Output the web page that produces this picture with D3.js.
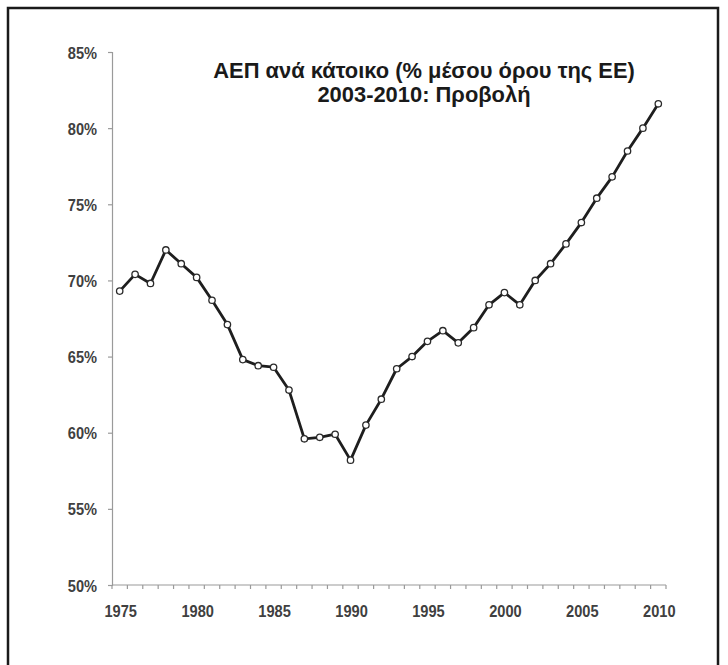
<!DOCTYPE html>
<html>
<head>
<meta charset="utf-8">
<script src="https://cdn.jsdelivr.net/npm/d3@7/dist/d3.min.js"></script>
<style>
  html, body { margin: 0; padding: 0; background: #fff; }
  svg { display: block; }
  text { font-family: "Liberation Sans", Arial, sans-serif; }
</style>
</head>
<body>
<svg id="chart" width="728" height="665"></svg>
<script>
const years = d3.range(1975, 2011);
const values = [
  69.3, 70.4, 69.8, 72.0, 71.1, 70.2, 68.7, 67.1, 64.8, 64.4,
  64.3, 62.8, 59.6, 59.7, 59.9, 58.2, 60.5, 62.2, 64.2, 65.0,
  66.0, 66.7, 65.9, 66.9, 68.4, 69.2, 68.4, 70.0, 71.1, 72.4,
  73.8, 75.4, 76.8, 78.5, 80.0, 81.6
];
const yTicks = [50, 55, 60, 65, 70, 75, 80, 85];
const xLabels = [1975, 1980, 1985, 1990, 1995, 2000, 2005, 2010];
const titleLines = ["ΑΕΠ ανά κάτοικο (% μέσου όρου της ΕΕ)", "2003-2010: Προβολή"];

const svg = d3.select("#chart");
const data = years.map((y, i) => ({ year: y, value: values[i] }));
const narrow = 0.86;
const labelSize = 17;

// frame
svg.append("rect")
  .attr("x", 8).attr("y", 8).attr("width", 710).attr("height", 680)
  .attr("fill", "none").attr("stroke", "#1a1a1a").attr("stroke-width", 2.5);

const x = d3.scaleBand().domain(years).range([112, 666]).padding(0);
const y = d3.scaleLinear().domain([50, 85]).range([585, 52]);
const cx = d => x(d) + x.bandwidth() / 2;

const axisColor = "#9a9a9a";

// y axis
const gy = svg.append("g").attr("transform", "translate(112,0)")
  .call(d3.axisLeft(y).tickValues(yTicks).tickSize(4).tickFormat(d => d + "%"));
gy.attr("font-size", null).attr("font-family", null);
gy.select(".domain").attr("stroke", axisColor).attr("stroke-width", 1.2);
gy.selectAll(".tick line").attr("stroke", axisColor).attr("stroke-width", 1.2);
gy.selectAll(".tick text")
  .attr("x", null).attr("dy", null)
  .attr("transform", `translate(-15,6) scale(${narrow},1)`)
  .style("font-size", labelSize + "px").style("font-weight", "bold").attr("fill", "#404040");

// x axis
const gx = svg.append("g").attr("transform", "translate(0,585)");
gx.append("line").attr("x1", 112).attr("x2", 666).attr("y1", 0).attr("y2", 0)
  .attr("stroke", axisColor).attr("stroke-width", 1.2);
const boundaries = years.map(yv => x(yv)).concat([x(years[years.length - 1]) + x.bandwidth()]);
gx.selectAll("line.tk").data(boundaries).enter().append("line")
  .attr("class", "tk")
  .attr("x1", d => d).attr("x2", d => d).attr("y1", 0).attr("y2", 4)
  .attr("stroke", axisColor).attr("stroke-width", 1.2);
gx.selectAll("text").data(xLabels).enter().append("text")
  .attr("transform", d => `translate(${cx(d) + 1},32) scale(${narrow},1)`)
  .attr("text-anchor", "middle")
  .style("font-size", labelSize + "px").style("font-weight", "bold").attr("fill", "#404040")
  .text(d => d);

// line
const line = d3.line().x(d => cx(d.year)).y(d => y(d.value));
svg.append("path").datum(data)
  .attr("d", line).attr("fill", "none")
  .attr("stroke", "#1e1e1e").attr("stroke-width", 2.8).attr("stroke-linejoin", "round");

svg.selectAll("circle.pt").data(data).enter().append("circle")
  .attr("class", "pt")
  .attr("cx", d => cx(d.year)).attr("cy", d => y(d.value))
  .attr("r", 3.2).attr("fill", "#fff").attr("stroke", "#2a2a2a").attr("stroke-width", 1.3);

// title
const titles = svg.selectAll("text.title").data(titleLines).enter().append("text")
  .attr("class", "title")
  .attr("text-anchor", "middle")
  .style("font-size", "22px").style("font-weight", "bold").attr("fill", "#1a1a1a")
  .text(d => d);
const w0 = titles.node().getComputedTextLength();
const k = 422 / w0;
titles.attr("transform", (d, i) => `translate(424,${78 + i * 24}) scale(${k},1)`);
</script>
</body>
</html>
